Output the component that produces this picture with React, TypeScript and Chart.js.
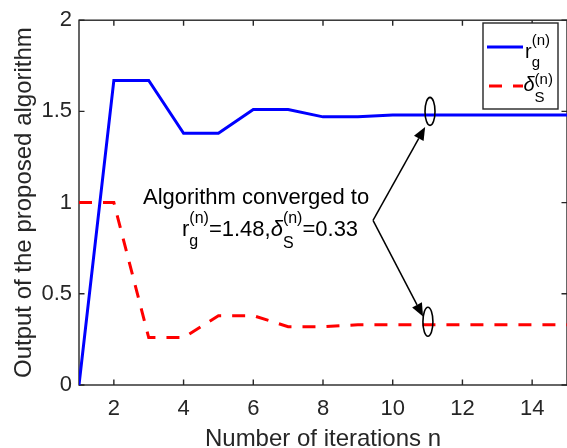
import React, { useEffect, useRef } from "react";
import { Chart, registerables } from "chart.js";

Chart.register(...registerables);

// ---- data ----
const iterations = [1, 2, 3, 4, 5, 6, 7, 8, 9, 10, 11, 12, 13, 14, 15];
const rgValues = [0, 1.67, 1.67, 1.38, 1.38, 1.51, 1.51, 1.47, 1.47, 1.48, 1.48, 1.48, 1.48, 1.48, 1.48];
const deltaValues = [1, 1, 0.26, 0.26, 0.38, 0.38, 0.32, 0.32, 0.33, 0.33, 0.33, 0.33, 0.33, 0.33, 0.33];
const xTickValues = [2, 4, 6, 8, 10, 12, 14];
const yTickValues = [0, 0.5, 1, 1.5, 2];
const xTitle = "Number of iterations n";
const yTitle = "Output of the proposed algorithm";
const noteLine1 = "Algorithm converged to";
const convergedRg = "1.48";
const convergedDelta = "0.33";

const FONT = '"Liberation Sans", Arial, Helvetica, sans-serif';
const AXIS = "#262626";
const BLUE = "#0000ff";
const RED = "#ff0000";

type Piece = { base?: string; italic?: boolean; sup?: string; sub?: string; supRise?: number; subDrop?: number };

function drawRich(ctx: CanvasRenderingContext2D, x: number, y: number, pieces: Piece[], mainSize: number, smallSize: number) {
  let cx = x;
  ctx.textAlign = "left";
  ctx.textBaseline = "alphabetic";
  for (const p of pieces) {
    if (p.base) {
      ctx.font = `${p.italic ? "italic " : ""}${mainSize}px ${FONT}`;
      ctx.fillText(p.base, cx, y);
      cx += ctx.measureText(p.base).width;
    }
    if (p.sup || p.sub) {
      ctx.font = `${smallSize}px ${FONT}`;
      let w = 0;
      if (p.sup) {
        ctx.fillText(p.sup, cx, y - (p.supRise ?? 12));
        w = Math.max(w, ctx.measureText(p.sup).width);
      }
      if (p.sub) {
        ctx.fillText(p.sub, cx, y + (p.subDrop ?? 10));
        w = Math.max(w, ctx.measureText(p.sub).width);
      }
      cx += w;
    }
  }
  return cx;
}

function drawArrow(ctx: CanvasRenderingContext2D, x0: number, y0: number, x1: number, y1: number) {
  const ang = Math.atan2(y1 - y0, x1 - x0);
  const hl = 13;
  const hw = 5.5;
  const bx = x1 - hl * Math.cos(ang);
  const by = y1 - hl * Math.sin(ang);
  ctx.beginPath();
  ctx.moveTo(x0, y0);
  ctx.lineTo(bx, by);
  ctx.stroke();
  ctx.beginPath();
  ctx.moveTo(x1, y1);
  ctx.lineTo(bx + hw * Math.sin(ang), by - hw * Math.cos(ang));
  ctx.lineTo(bx - hw * Math.sin(ang), by + hw * Math.cos(ang));
  ctx.closePath();
  ctx.fill();
}

const framePlugin = {
  id: "matlabFrame",
  beforeDatasetsDraw(chart: any) {
    const { ctx, chartArea: a, scales } = chart;
    ctx.save();
    ctx.strokeStyle = AXIS;
    ctx.lineWidth = 1.4;
    ctx.strokeRect(a.left, a.top, a.right - a.left, a.bottom - a.top);
    const tl = 5.5;
    ctx.beginPath();
    for (const v of xTickValues) {
      const px = scales.x.getPixelForValue(v);
      ctx.moveTo(px, a.bottom);
      ctx.lineTo(px, a.bottom - tl);
      ctx.moveTo(px, a.top);
      ctx.lineTo(px, a.top + tl);
    }
    for (const v of yTickValues) {
      const py = scales.y.getPixelForValue(v);
      ctx.moveTo(a.left, py);
      ctx.lineTo(a.left + tl, py);
      ctx.moveTo(a.right, py);
      ctx.lineTo(a.right - tl, py);
    }
    ctx.stroke();
    ctx.restore();
  },
};

const notePlugin = {
  id: "noteAndLegend",
  afterDatasetsDraw(chart: any) {
    const { ctx, scales } = chart;
    const X = (v: number) => scales.x.getPixelForValue(v);
    const Y = (v: number) => scales.y.getPixelForValue(v);
    ctx.save();
    ctx.fillStyle = "#000";
    ctx.strokeStyle = "#000";

    // annotation text
    ctx.font = `22px ${FONT}`;
    ctx.textAlign = "center";
    ctx.textBaseline = "alphabetic";
    ctx.fillText(noteLine1, X(6.08), Y(0.995));
    drawRich(
      ctx,
      X(3.955),
      Y(0.817),
      [
        { base: "r", sup: "(n)", sub: "g", supRise: 13, subDrop: 10 },
        { base: "=" + convergedRg + "," },
        { base: "δ", italic: true, sup: "(n)", sub: "S", supRise: 13, subDrop: 12 },
        { base: "=" + convergedDelta },
      ],
      22,
      16
    );

    // arrows
    ctx.lineWidth = 1.5;
    const vx = X(9.435);
    const vy = Y(0.903);
    drawArrow(ctx, vx, vy, X(10.93), Y(1.414));
    drawArrow(ctx, vx, vy, X(10.87), Y(0.376));

    // ellipses
    ctx.lineWidth = 1.6;
    ctx.beginPath();
    ctx.ellipse(X(11.07), Y(1.5), 5, 14, 0, 0, Math.PI * 2);
    ctx.stroke();
    ctx.beginPath();
    ctx.ellipse(X(11.01), Y(0.347), 5, 14.5, 0, 0, Math.PI * 2);
    ctx.stroke();

    // legend
    const L = 483, T = 23, R = 558, B = 109;
    ctx.fillStyle = "#fff";
    ctx.fillRect(L, T, R - L, B - T);
    ctx.strokeStyle = AXIS;
    ctx.lineWidth = 1.4;
    ctx.strokeRect(L, T, R - L, B - T);

    const ds = chart.data.datasets;
    ctx.lineWidth = 3;
    ctx.strokeStyle = ds[0].borderColor;
    ctx.setLineDash([]);
    ctx.beginPath();
    ctx.moveTo(487, 47);
    ctx.lineTo(523, 47);
    ctx.stroke();
    ctx.strokeStyle = ds[1].borderColor;
    ctx.setLineDash(ds[1].borderDash);
    ctx.beginPath();
    ctx.moveTo(489, 86);
    ctx.lineTo(523, 86);
    ctx.stroke();
    ctx.setLineDash([]);

    ctx.fillStyle = "#000";
    drawRich(ctx, 525, 57.5, [{ base: "r", sup: "(n)", sub: "g", supRise: 12.5, subDrop: 9 }], 20, 15);
    drawRich(ctx, 523.5, 91, [{ base: "δ", italic: true, sup: "(n)", sub: "S", supRise: 7, subDrop: 11 }], 20, 15);

    ctx.restore();
  },
};

export default function App() {
  const ref = useRef<HTMLCanvasElement | null>(null);

  useEffect(() => {
    document.body.style.margin = "0";
    document.body.style.overflow = "hidden";
    const canvas = ref.current;
    if (!canvas) return;
    const chart = new Chart(canvas, {
      type: "line",
      data: {
        datasets: [
          {
            label: "r_g^(n)",
            data: iterations.map((n, i) => ({ x: n, y: rgValues[i] })),
            borderColor: BLUE,
            backgroundColor: BLUE,
            borderWidth: 3,
            pointRadius: 0,
            tension: 0,
            fill: false,
          },
          {
            label: "δ_S^(n)",
            data: iterations.map((n, i) => ({ x: n, y: deltaValues[i] })),
            borderColor: RED,
            backgroundColor: RED,
            borderWidth: 3,
            borderDash: [13, 11],
            pointRadius: 0,
            tension: 0,
            fill: false,
          },
        ],
      },
      options: {
        responsive: false,
        animation: false,
        devicePixelRatio: 1,
        layout: { padding: { top: 13, left: 0, right: 0, bottom: 0 } },
        plugins: {
          legend: { display: false },
          tooltip: { enabled: false },
        },
        scales: {
          x: {
            type: "linear",
            min: 1,
            max: 15,
            afterBuildTicks: (s: any) => {
              s.ticks = xTickValues.map((v) => ({ value: v }));
            },
            afterFit: (s: any) => {
              s.height = 71;
            },
            grid: { display: false, drawTicks: false },
            border: { display: false },
            ticks: {
              font: { family: FONT, size: 22 },
              color: AXIS,
              padding: 11,
              maxRotation: 0,
              autoSkip: false,
              callback: (v: any) => String(v),
            },
            title: {
              display: true,
              text: xTitle,
              font: { family: FONT, size: 24 },
              color: AXIS,
              padding: { top: 0, bottom: 2 },
            },
          },
          y: {
            type: "linear",
            min: 0,
            max: 2,
            afterBuildTicks: (s: any) => {
              s.ticks = yTickValues.map((v) => ({ value: v }));
            },
            afterFit: (s: any) => {
              s.width = 79;
            },
            grid: { display: false, drawTicks: false },
            border: { display: false },
            ticks: {
              font: { family: FONT, size: 22 },
              color: AXIS,
              padding: 7,
              autoSkip: false,
              callback: (v: any) => String(v),
            },
            title: {
              display: true,
              text: yTitle,
              font: { family: FONT, size: 24 },
              color: AXIS,
              padding: { top: 10, bottom: 0 },
            },
          },
        },
      },
      plugins: [framePlugin, notePlugin],
    } as any);
    return () => chart.destroy();
  }, []);

  return (
    <div style={{ width: 567, height: 448, overflow: "hidden", position: "relative" }}>
      <canvas ref={ref} width={567} height={456} style={{ display: "block", width: 567, height: 456 }} />
    </div>
  );
}
